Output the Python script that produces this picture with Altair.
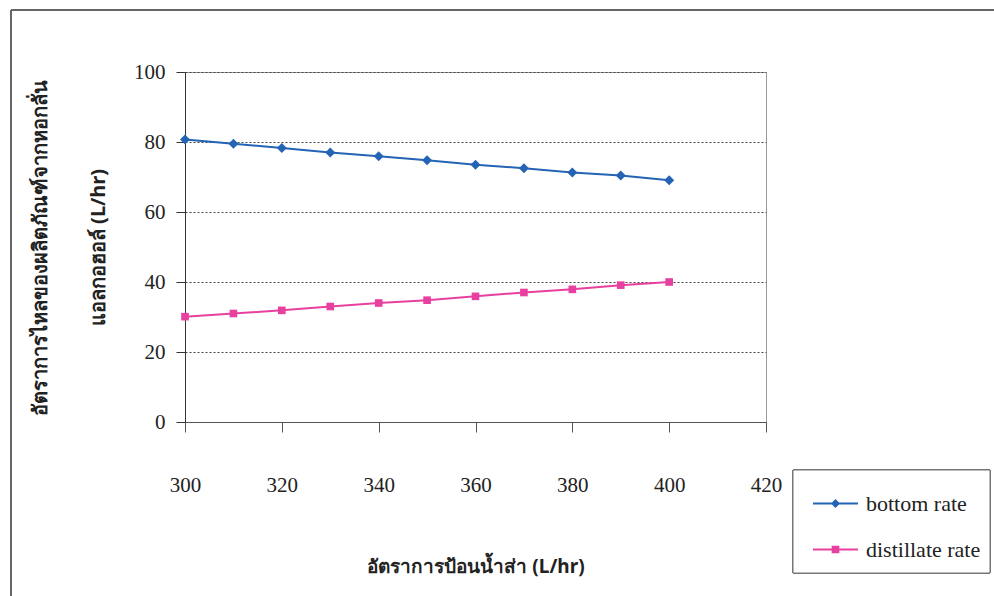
import altair as alt
import pandas as pd

# ---- data ----
feed_rate = [300, 310, 320, 330, 340, 350, 360, 370, 380, 390, 400]
bottom_rate = [80.7, 79.5, 78.3, 77.0, 75.9, 74.8, 73.5, 72.5, 71.3, 70.4, 69.1]
distillate_rate = [30.1, 31.0, 31.9, 33.0, 34.0, 34.8, 35.9, 37.0, 37.9, 39.1, 40.0]
series_names = ["bottom rate", "distillate rate"]
series_colors = ["#2563b5", "#e8409f"]
x_ticks = [300, 320, 340, 360, 380, 400, 420]
y_ticks = [0, 20, 40, 60, 80, 100]

x_title = "อัตราการป้อนน้ำส่า (L/hr)"
y_title = ["อัตราการไหลของผลิตภัณฑ์จากหอกลั่น", "แอลกอฮอล์  (L/hr)"]

rows = []
for x, b, d in zip(feed_rate, bottom_rate, distillate_rate):
    rows.append({"feed": x, "rate": b, "series": series_names[0]})
    rows.append({"feed": x, "rate": d, "series": series_names[1]})
df = pd.DataFrame(rows)

SERIF = "Liberation Serif"
THAI = "Noto Sans"

color_scale = alt.Scale(domain=series_names, range=series_colors)

x_enc = alt.X(
    "feed:Q",
    scale=alt.Scale(domain=[300, 420], nice=False, zero=False),
    axis=alt.Axis(
        values=x_ticks, title=x_title, grid=False, labelFlush=False,
        labelFont=SERIF, labelFontSize=21, labelColor="#222",
        labelPadding=42, tickSize=10, tickColor="#555", domainColor="#555",
        titleFont=THAI, titleFontSize=19, titleFontWeight="bold", titleColor="#222",
        titlePadding=62,
    ),
)
y_enc = alt.Y(
    "rate:Q",
    scale=alt.Scale(domain=[0, 100], nice=False),
    axis=alt.Axis(
        values=y_ticks, title=y_title, grid=True, gridDash=[2, 2], gridColor="#444",
        gridWidth=1, labelFlush=False,
        labelFont=SERIF, labelFontSize=21, labelColor="#222",
        labelPadding=11, tickSize=9, tickColor="#333", domainColor="#333",
        titleFont=THAI, titleFontSize=20, titleFontWeight="bold", titleColor="#222",
        titleAngle=-90, titleAlign="center", titleBaseline="middle",
        titleLineHeight=58, titleX=-145, titleY=175,
    ),
)

base = alt.Chart(df)

lines = base.mark_line(strokeWidth=2).encode(
    x=x_enc, y=y_enc,
    color=alt.Color("series:N", scale=color_scale, legend=None),
    detail="series:N",
)

pts_bottom = base.transform_filter(alt.datum.series == series_names[0]).mark_point(
    filled=True, opacity=1, shape="diamond", size=100
).encode(
    x=x_enc, y=y_enc,
    color=alt.Color("series:N", scale=color_scale, legend=None),
)
pts_dist = base.transform_filter(alt.datum.series == series_names[1]).mark_point(
    filled=True, opacity=1, shape="square", size=58
).encode(
    x=x_enc, y=y_enc,
    color=alt.Color("series:N", scale=color_scale, legend=None),
)

# legend: box, then one entry per series (line bar joined to the marker)
legend_paths = [
    "M-1,-0.045H1V0.045H-1Z M0,-0.2L0.2,0L0,0.2L-0.2,0Z",
    "M-1,-0.045H1V0.045H-1Z M-0.17,-0.17H0.17V0.17H-0.17Z",
]
legend_box = alt.Chart(df).mark_rect(fill="white", stroke="#777", strokeWidth=1).encode(
    x=alt.value(608), x2=alt.value(805), y=alt.value(398), y2=alt.value(501)
)


def legend_entry(i, y_pos):
    lg = alt.Legend(
        title=None, orient="none", legendX=627, legendY=y_pos,
        labelFont=SERIF, labelFontSize=22, labelColor="#222",
        symbolSize=2025, symbolOpacity=1, labelOffset=7, padding=0,
    )
    return base.transform_filter("false").mark_point(
        filled=True, opacity=1, color=series_colors[i]
    ).encode(
        x=x_enc, y=y_enc,
        shape=alt.Shape(
            "series:N",
            scale=alt.Scale(domain=[series_names[i]], range=[legend_paths[i]]),
            legend=lg,
        ),
    )


leg_b = legend_entry(0, 408)
leg_d = legend_entry(1, 454)

# page frame (decorative border of the scanned figure)
frame_top = alt.Chart(df).mark_rule(color="#666", strokeWidth=1.5).encode(
    x=alt.value(-174), x2=alt.value(830), y=alt.value(-62)
)
frame_left = alt.Chart(df).mark_rule(color="#666", strokeWidth=1.5).encode(
    x=alt.value(-174), y=alt.value(-62), y2=alt.value(540)
)

chart = alt.layer(
    lines, pts_bottom, pts_dist, legend_box, leg_b, leg_d, frame_top, frame_left
).resolve_scale(shape="independent").properties(
    width=581, height=350,
    autosize=alt.AutoSizeParams(type="none"),
    padding={"left": 185, "top": 72, "right": 228, "bottom": 174},
    background="white",
).configure_view(stroke="#999", strokeWidth=1)

chart.save("out.html", embed_options={"renderer": "svg", "actions": False})
